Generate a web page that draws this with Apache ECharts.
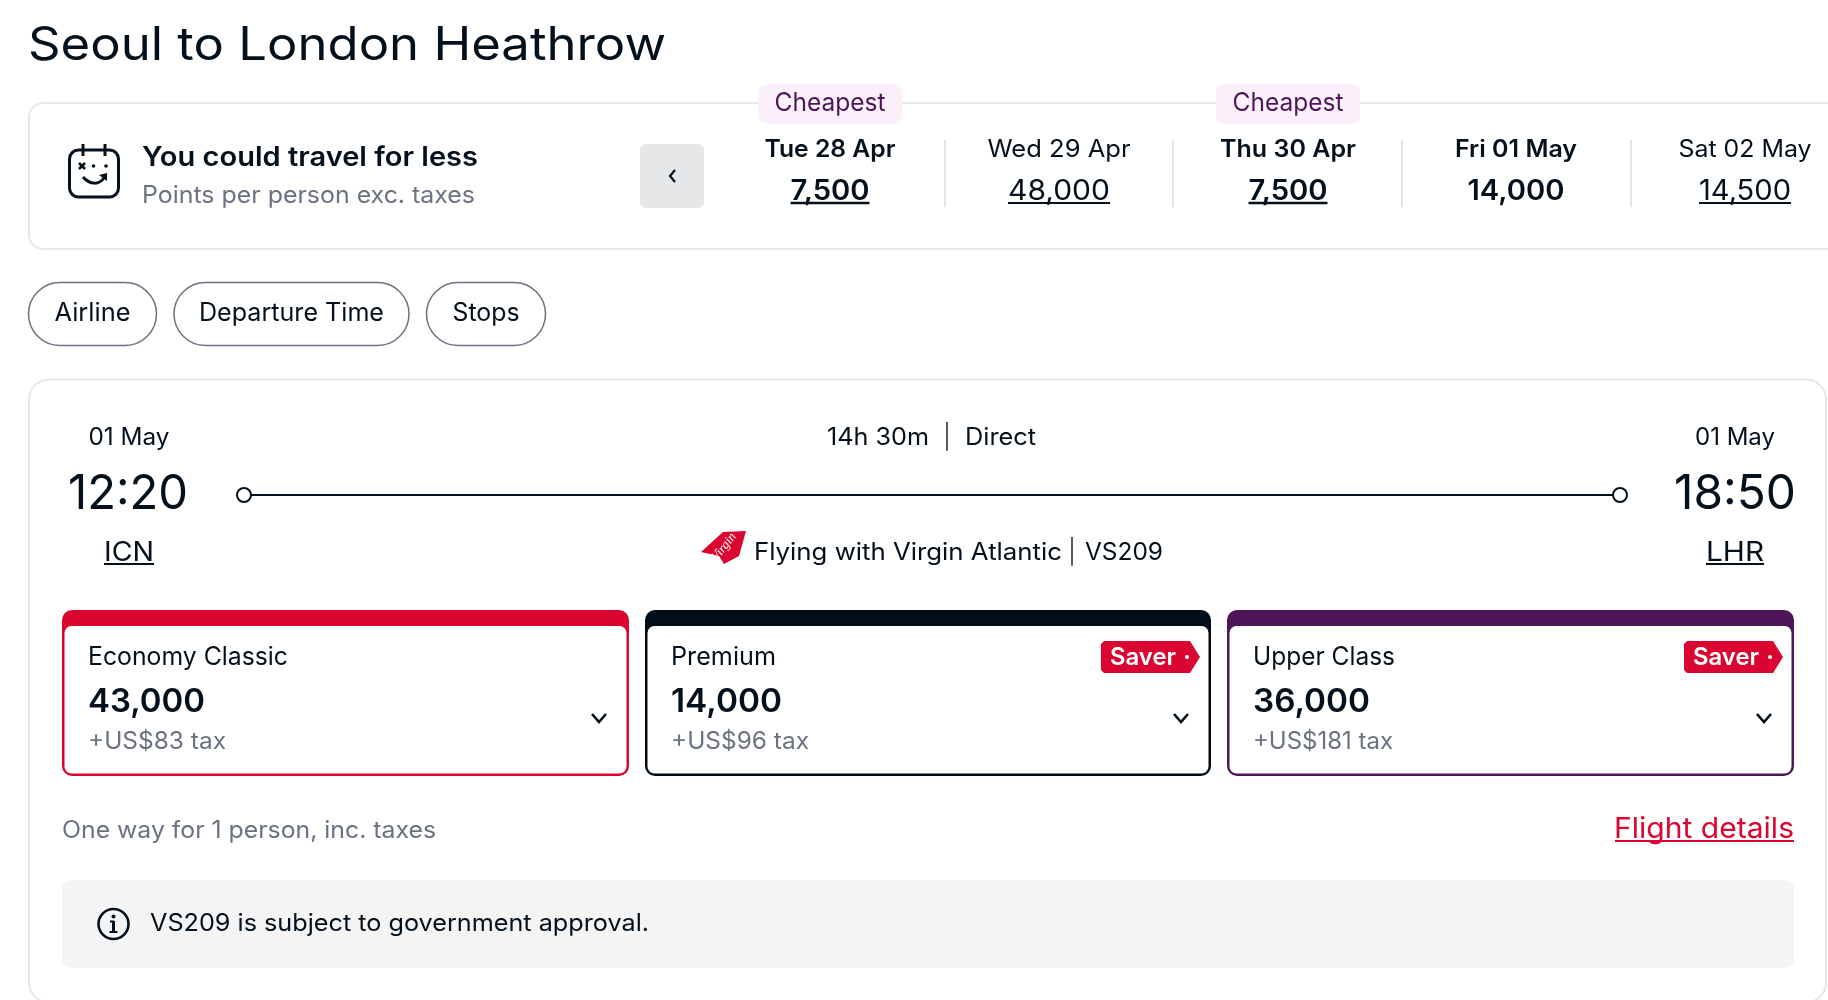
<!DOCTYPE html>
<html style="height: 100%">
<head>
    <meta charset="utf-8">
    <script src="https://cdn.jsdelivr.net/npm/echarts@6/dist/echarts.min.js"></script>
</head>
<body style="height: 100%; margin: 0; background: #fff">
<div id="container" style="width: 1828px; height: 1000px"></div>
<script type="text/javascript">
    var routeTitle = 'Seoul to London Heathrow';
    var dayLabels = ['Tue 28 Apr', 'Wed 29 Apr', 'Thu 30 Apr', 'Fri 01 May', 'Sat 02 May'];
    var dayPoints = ['7,500', '48,000', '7,500', '14,000', '14,500'];
    var dayCheapest = [true, false, true, false, false];
    var dayBold = [true, false, true, true, false];
    var dayLinked = [true, true, true, false, true];
    var filterLabels = ['Airline', 'Departure Time', 'Stops'];
    var fareNames = ['Economy Classic', 'Premium', 'Upper Class'];
    var farePoints = ['43,000', '14,000', '36,000'];
    var fareTaxes = ['+US$83 tax', '+US$96 tax', '+US$181 tax'];
    var fareSaver = [false, true, true];
    var fareColors = ['#da0530', '#030d18', '#4f1559'];

    var FONT = 'Inter, "Noto Sans", sans-serif';
    var INK = '#04101c';
    var GREY = '#6b7280';
    var els = [];
    var ctx = document.createElement('canvas').getContext('2d');

    function text(str, x, base, size, o) {
        o = o || {};
        var weight = o.weight || 400;
        var font = weight + ' ' + size + 'px ' + FONT;
        ctx.font = font;
        var natural = ctx.measureText(str).width;
        var w = o.width || natural;
        var align = o.align || 'left';
        els.push({
            type: 'text', x: x, y: base - 0.3 - 0.29 * size, scaleX: w / natural,
            style: {text: str, x: 0, y: 0, font: font, fill: o.color || INK, textAlign: align, textVerticalAlign: 'middle'}
        });
        if (o.underline) {
            var left = align == 'center' ? x - w / 2 : x;
            line(left, base + 3, left + w, base + 3, o.color || INK, o.weight >= 600 ? 2.5 : 2);
        }
    }
    function line(x1, y1, x2, y2, color, width) {
        els.push({type: 'line', shape: {x1: x1, y1: y1, x2: x2, y2: y2}, style: {stroke: color, lineWidth: width}});
    }
    function rect(x, y, w, h, r, fill, stroke, sw) {
        els.push({type: 'rect', shape: {x: x, y: y, width: w, height: h, r: r},
            style: {fill: fill, stroke: stroke || null, lineWidth: sw || 0}});
    }
    function chevronDown(cx, cy) {
        els.push({type: 'polyline', shape: {points: [[cx - 7, cy - 4], [cx, cy + 4], [cx + 7, cy - 4]]},
            style: {stroke: INK, lineWidth: 2.6, fill: null}});
    }

    // heading + cheapest-day card
    text(routeTitle, 28, 60, 46, {width: 638});
    rect(29, 103, 1900, 146, 14, '#fff', '#e8e8e8', 2);

    // calendar icon
    rect(69.5, 150, 49, 47, 9, null, INK, 3);
    line(83, 144, 83, 156, INK, 3);
    line(105, 144, 105, 156, INK, 3);
    line(79, 163, 85, 169, INK, 2.5);
    line(85, 163, 79, 169, INK, 2.5);
    els.push({type: 'circle', shape: {cx: 93.5, cy: 166, r: 1.8}, style: {fill: INK}});
    els.push({type: 'circle', shape: {cx: 106, cy: 166, r: 1.8}, style: {fill: INK}});
    els.push({type: 'bezierCurve', shape: {x1: 83, y1: 177, x2: 104, y2: 178, cpx1: 90, cpy1: 185, cpx2: 99, cpy2: 185},
        style: {stroke: INK, lineWidth: 3, fill: null}});
    els.push({type: 'polygon', shape: {points: [[99, 175], [107, 173], [107, 181]]}, style: {fill: INK}});

    text('You could travel for less', 142, 166, 27, {weight: 600, width: 336});
    text('Points per person exc. taxes', 142, 203, 24, {color: GREY, width: 333});

    // back button
    rect(640, 144, 64, 64, 6, '#e5e7e9');
    els.push({type: 'polyline', shape: {points: [[675, 170], [670, 176], [675, 182]]},
        style: {stroke: INK, lineWidth: 2.2, fill: null}});

    var dayX = [830, 1059, 1288, 1516, 1745];
    var dayW = [131, 143, 136, 122, 133];
    var pointW = [79, 102, 79, 97, 92];
    var dividerX = [945, 1173, 1402, 1631];
    dividerX.forEach(function (x) {
        line(x, 140, x, 207, '#e5e5e5', 2);
    });
    dayLabels.forEach(function (label, i) {
        var w = dayBold[i] ? 600 : 400;
        if (dayCheapest[i]) {
            rect(dayX[i] - 72, 84, 144, 40, 9, '#faf0fa');
            text('Cheapest', dayX[i], 111, 25, {align: 'center', color: '#4f1559', width: 111});
        }
        text(label, dayX[i], 157, 24, {align: 'center', weight: w, width: dayW[i]});
        text(dayPoints[i], dayX[i], 200, 28, {align: 'center', weight: w, width: pointW[i], underline: dayLinked[i]});
    });

    // filter pills
    var pillX = [28.5, 174, 426.5];
    var pillW = [128, 235, 119];
    var pillTextW = [76, 185, 67];
    filterLabels.forEach(function (label, i) {
        rect(pillX[i], 282.5, pillW[i], 63, 31.5, '#fff', GREY, 1.5);
        text(label, pillX[i] + pillW[i] / 2, 321, 25, {align: 'center', width: pillTextW[i]});
    });

    // flight card
    rect(29, 379.5, 1797, 623, 20, '#fff', '#e8e8e8', 2);
    text('01 May', 129, 445, 24, {align: 'center', width: 81});
    text('12:20', 128, 508.5, 48, {align: 'center', width: 120});
    text('ICN', 129, 561, 27, {align: 'center', width: 50, underline: true});
    text('14h 30m', 827, 445, 24, {width: 102});
    text('|', 947, 445, 24, {align: 'center', weight: 300});
    text('Direct', 965, 445, 24, {width: 71});
    line(251, 495, 1613, 495, INK, 2);
    [244, 1620].forEach(function (cx) {
        els.push({type: 'circle', shape: {cx: cx, cy: 495, r: 7}, style: {fill: '#fff', stroke: INK, lineWidth: 2}});
    });
    text('01 May', 1735, 445, 24, {align: 'center', width: 80});
    text('18:50', 1735, 508.5, 48, {align: 'center', width: 122});
    text('LHR', 1735, 561, 27, {align: 'center', width: 58, underline: true});

    // virgin tail
    els.push({type: 'polygon', shape: {points: [[746, 531], [723, 532], [701, 552], [719, 556], [724, 564], [739, 556]]},
        style: {fill: '#da0530'}});
    els.push({type: 'text', x: 724, y: 547, rotation: 0.9,
        style: {text: 'Virgin', x: 0, y: 0, font: 'italic 13px "Liberation Serif"', fill: '#fff', textAlign: 'center', textVerticalAlign: 'middle'}});
    text('Flying with Virgin Atlantic', 754, 560, 24, {width: 308});
    text('|', 1072, 560, 24, {align: 'center', weight: 300});
    text('VS209', 1085, 560, 24, {width: 78});

    // fare boxes
    var fareX = [62, 645, 1227];
    var fareW = [567, 566, 567];
    var saverX = [0, 1101, 1684];
    fareNames.forEach(function (name, i) {
        rect(fareX[i], 610, fareW[i], 166, 10, fareColors[i]);
        rect(fareX[i] + 2.5, 626, fareW[i] - 5, 147.5, 7, '#fff');
        text(name, fareX[i] + 26, 665, 25, {width: i == 0 ? 200 : (i == 1 ? 105 : 142)});
        text(farePoints[i], fareX[i] + 26, 712, 33, {weight: 600, width: i == 1 ? 111 : 117});
        text(fareTaxes[i], fareX[i] + 26, 749, 24, {color: GREY, width: i == 2 ? 140 : 138});
        chevronDown(fareX[i] + fareW[i] - 30, 718);
        if (fareSaver[i]) {
            var sx = saverX[i];
            els.push({type: 'polygon', shape: {points: [[sx + 3, 641], [sx + 89, 641], [sx + 99, 657], [sx + 89, 673], [sx + 3, 673], [sx, 670], [sx, 644]]},
                style: {fill: '#da0530'}});
            text('Saver', sx + 9, 665, 24, {weight: 600, color: '#fff', width: 66});
            els.push({type: 'circle', shape: {cx: sx + 86, cy: 657, r: 2}, style: {fill: '#fff'}});
        }
    });

    text('One way for 1 person, inc. taxes', 62, 838, 24, {color: GREY, width: 374});
    text('Flight details', 1794, 838, 29, {align: 'right', color: '#da0530', width: 180});
    line(1615, 841, 1794, 841, '#da0530', 2);

    // notice
    rect(62, 880, 1732, 88, 9, '#f4f4f4');
    els.push({type: 'circle', shape: {cx: 113.5, cy: 924, r: 15}, style: {fill: null, stroke: INK, lineWidth: 2.6}});
    els.push({type: 'circle', shape: {cx: 113.5, cy: 916.5, r: 2}, style: {fill: INK}});
    line(113.5, 921, 113.5, 932, INK, 3);
    line(110, 921.5, 114, 921.5, INK, 2);
    line(109.5, 932, 117.5, 932, INK, 2);
    text('VS209 is subject to government approval.', 150, 931, 24, {width: 499});

    var myChart = echarts.init(document.getElementById('container'));
    myChart.setOption({animation: false, graphic: {elements: els}});
</script>
</body>
</html>
